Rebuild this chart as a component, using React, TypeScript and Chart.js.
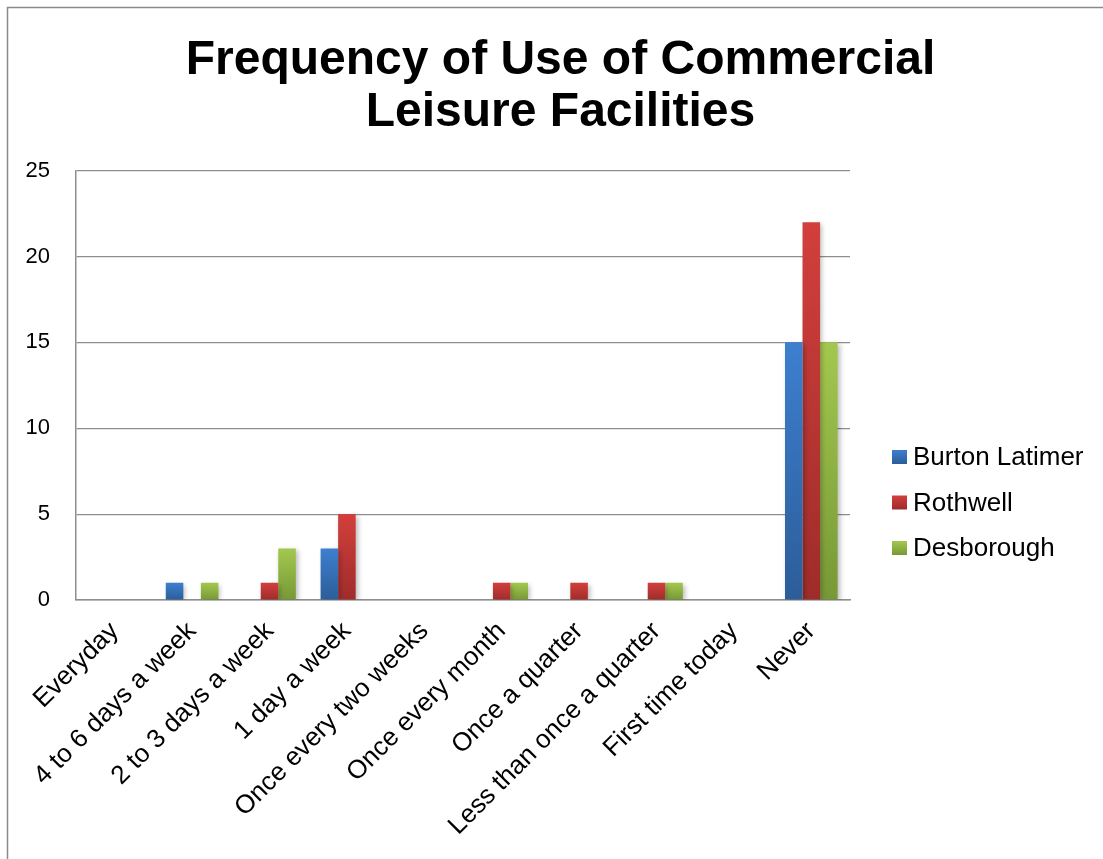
import React, { useEffect, useRef } from 'react';
import { Chart, registerables } from 'chart.js';

Chart.register(...registerables);

const titleLines = ['Frequency of Use of Commercial', 'Leisure Facilities'];

const categories = [
  'Everyday',
  '4 to 6 days a week',
  '2 to 3 days a week',
  '1 day a week',
  'Once every two weeks',
  'Once every month',
  'Once a quarter',
  'Less than once a quarter',
  'First time today',
  'Never',
];

const seriesNames = ['Burton Latimer', 'Rothwell', 'Desborough'];
const burtonLatimer = [0, 1, 0, 3, 0, 0, 0, 0, 0, 15];
const rothwell = [0, 0, 1, 5, 0, 1, 1, 1, 0, 22];
const desborough = [0, 1, 3, 0, 0, 1, 0, 1, 0, 15];

const yMin = 0;
const yMax = 25;
const yStep = 5;

const topColors = ['#3D7FCF', '#D23F3C', '#A3C84E'];
const bottomColors = ['#2C5D99', '#9F2C2A', '#779836'];

const FONT = "'Liberation Sans', Arial, sans-serif";

const W = 1103;
const H = 859;

function barGradient(i: number) {
  return (ctx: any) => {
    const chart = ctx.chart;
    const y = chart.scales && chart.scales.y;
    if (ctx.type !== 'data' || !y || !chart.chartArea) return topColors[i];
    const v = ctx.parsed ? ctx.parsed.y : ctx.raw;
    const p0 = y.getPixelForValue(0);
    const p1 = y.getPixelForValue(v);
    if (!isFinite(p0) || !isFinite(p1) || p0 === p1) return topColors[i];
    const g = chart.ctx.createLinearGradient(0, p1, 0, p0);
    g.addColorStop(0, topColors[i]);
    g.addColorStop(1, bottomColors[i]);
    return g;
  };
}

const framePlugin = {
  id: 'frame',
  beforeDraw(chart: any) {
    const c = chart.ctx;
    c.save();
    c.fillStyle = '#ffffff';
    c.fillRect(0, 0, chart.width, chart.height);
    c.strokeStyle = '#8a8a8a';
    c.lineWidth = 1.5;
    c.beginPath();
    c.moveTo(7.5, chart.height + 5);
    c.lineTo(7.5, 7.5);
    c.lineTo(chart.width + 5, 7.5);
    c.stroke();
    c.restore();
  },
};

const shadowPlugin = {
  id: 'barShadow',
  beforeDatasetsDraw(chart: any) {
    const c = chart.ctx;
    c.save();
    c.shadowColor = 'rgba(0,0,0,0.28)';
    c.shadowBlur = 5;
    c.shadowOffsetX = 2;
    c.shadowOffsetY = 2;
  },
  afterDatasetsDraw(chart: any) {
    chart.ctx.restore();
  },
};

const legendPlugin = {
  id: 'sideLegend',
  afterDraw(chart: any) {
    const c = chart.ctx;
    const area = chart.chartArea;
    const x0 = area.right + 42;
    const yStart = 457;
    const gap = 45.5;
    c.save();
    c.font = `26px ${FONT}`;
    c.textBaseline = 'middle';
    c.textAlign = 'left';
    chart.data.datasets.forEach((ds: any, i: number) => {
      const yc = yStart + i * gap;
      const g = c.createLinearGradient(0, yc - 7, 0, yc + 7);
      g.addColorStop(0, topColors[i]);
      g.addColorStop(1, bottomColors[i]);
      c.fillStyle = g;
      c.fillRect(x0, yc - 7, 15, 14);
      c.fillStyle = '#000000';
      c.fillText(ds.label, x0 + 21, yc + 1);
    });
    c.restore();
  },
};

export default function App() {
  const ref = useRef<HTMLCanvasElement | null>(null);

  useEffect(() => {
    if (!ref.current) return;
    const seriesData = [burtonLatimer, rothwell, desborough];
    const chart = new Chart(ref.current, {
      type: 'bar',
      data: {
        labels: categories,
        datasets: seriesNames.map((name, i) => ({
          label: name,
          data: seriesData[i],
          backgroundColor: barGradient(i),
          borderWidth: 0,
          categoryPercentage: 0.68,
          barPercentage: 1.0,
        })),
      },
      options: {
        responsive: false,
        animation: false,
        layout: { padding: { left: 18, right: 0, top: 0, bottom: 0 } },
        plugins: {
          legend: { display: false },
          tooltip: { enabled: false },
          title: {
            display: true,
            text: titleLines,
            color: '#000000',
            font: { family: FONT, size: 48, weight: 'bold', lineHeight: 1.1 },
            padding: { top: 34, bottom: 31 },
          },
        },
        scales: {
          x: {
            grid: { display: false, drawTicks: false },
            border: { display: true, color: '#8e8e8e', width: 1.5 },
            ticks: {
              autoSkip: false,
              maxRotation: 45,
              minRotation: 45,
              padding: 16,
              color: '#000000',
              font: { family: FONT, size: 26 },
            },
            afterFit: (s: any) => {
              s.height = 259;
            },
          },
          y: {
            min: yMin,
            max: yMax,
            grid: { color: '#8e8e8e', lineWidth: 1.2, drawTicks: false },
            border: { display: true, color: '#8e8e8e', width: 1.5 },
            ticks: {
              stepSize: yStep,
              padding: 26,
              color: '#000000',
              font: { family: FONT, size: 22 },
            },
            afterFit: (s: any) => {
              s.width = 58;
            },
          },
          yRight: {
            position: 'right',
            display: true,
            grid: { display: false, drawTicks: false },
            border: { display: false },
            ticks: { display: false },
            afterFit: (s: any) => {
              s.width = 253;
            },
          },
        },
      },
      plugins: [framePlugin, shadowPlugin, legendPlugin],
    } as any);
    return () => chart.destroy();
  }, []);

  return (
    <div style={{ position: 'absolute', left: 0, top: 0, width: W, height: H }}>
      <canvas ref={ref} width={W} height={H} style={{ display: 'block' }} />
    </div>
  );
}
